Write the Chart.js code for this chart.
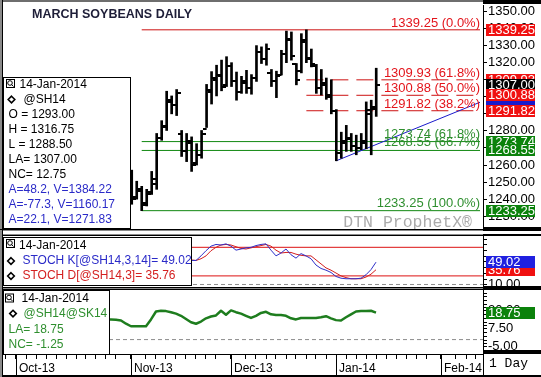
<!DOCTYPE html>
<html>
<head>
<meta charset="utf-8">
<title>March Soybeans Daily</title>
<script src="https://cdn.jsdelivr.net/npm/chart.js@4.4.1/dist/chart.umd.min.js"></script>
<style>
  body { margin: 0; background: #fff; }
  #wrap { position: relative; width: 541px; height: 377px; overflow: hidden; }
  #wrap canvas { position: absolute; left: 0; }
</style>
</head>
<body>
<div id="wrap">
  <canvas id="priceChart" width="541" height="234" style="top:0"></canvas>
  <canvas id="stochChart" width="541" height="55" style="top:234px"></canvas>
  <canvas id="spreadChart" width="541" height="88" style="top:289px"></canvas>
</div>
<script>
// trading day numbers count from 1-Oct-2013 (= day 0)
const firstDay = 18;
const dates = [
  '25-Oct-2013', '28-Oct-2013', '29-Oct-2013', '30-Oct-2013', '31-Oct-2013',
  '01-Nov-2013', '04-Nov-2013', '05-Nov-2013', '06-Nov-2013', '07-Nov-2013', '08-Nov-2013',
  '11-Nov-2013', '12-Nov-2013', '13-Nov-2013', '14-Nov-2013', '15-Nov-2013',
  '18-Nov-2013', '19-Nov-2013', '20-Nov-2013', '21-Nov-2013', '22-Nov-2013',
  '25-Nov-2013', '26-Nov-2013', '27-Nov-2013', '29-Nov-2013',
  '02-Dec-2013', '03-Dec-2013', '04-Dec-2013', '05-Dec-2013', '06-Dec-2013',
  '09-Dec-2013', '10-Dec-2013', '11-Dec-2013', '12-Dec-2013', '13-Dec-2013',
  '16-Dec-2013', '17-Dec-2013', '18-Dec-2013', '19-Dec-2013', '20-Dec-2013',
  '23-Dec-2013', '24-Dec-2013', '26-Dec-2013', '27-Dec-2013', '30-Dec-2013', '31-Dec-2013',
  '02-Jan-2014', '03-Jan-2014', '06-Jan-2014', '07-Jan-2014', '08-Jan-2014', '09-Jan-2014',
  '10-Jan-2014', '13-Jan-2014', '14-Jan-2014'
];

// @SH14 daily bars (bars hidden behind the legend box are left out)
const openPx = [null, null, null, null, 1262,
  1254, 1241, 1245, 1238, 1244, 1249,
  1276, 1282, 1297, 1295, 1278,
  1268, 1273, 1261, 1266, 1281,
  1303, 1310, 1312, 1307,
  1318, 1309, 1303, 1308, 1305,
  1311, 1326, 1322, 1314, 1309,
  1313, 1325, 1333, 1319, 1315,
  1333, 1322, 1318, 1305, 1308, 1301,
  1291.5, 1267, 1273, 1275, 1271, 1270,
  1273, 1290, 1293];
const highPx = [null, null, null, null, 1266,
  1257, 1250.5, 1247.5, 1245.75, 1256.25, 1278.5,
  1286, 1303.25, 1300.5, 1304.25, 1280.25,
  1278.5, 1276.5, 1272.5, 1280.25, 1307.25,
  1314.75, 1318.5, 1321.5, 1323.5,
  1320, 1314.5, 1312, 1315.5, 1313,
  1330, 1329.25, 1331, 1316, 1315,
  1327.25, 1338.5, 1338, 1319.5, 1337,
  1339.25, 1328, 1319, 1316, 1311, 1310,
  1292.5, 1279.25, 1283.25, 1278.5, 1277.5, 1278.5,
  1297, 1298, 1316.75];
const lowPx = [null, null, null, null, 1250,
  1237, 1240, 1233.25, 1236, 1242.75, 1245.75,
  1274.5, 1280.25, 1290, 1289, 1265,
  1262, 1256.25, 1260, 1264, 1282,
  1295.75, 1300.5, 1303.5, 1306,
  1306, 1298, 1302, 1302, 1301.5,
  1309, 1319.5, 1318.5, 1306, 1299.5,
  1312.75, 1320, 1321.5, 1307, 1314,
  1320, 1317.5, 1302, 1301, 1298.5, 1290,
  1262.5, 1264, 1268, 1268, 1266, 1269,
  1269.5, 1266, 1288.5];
const closePx = [null, null, null, null, 1255,
  1240, 1246, 1236.5, 1243, 1252, 1276,
  1283, 1298, 1295, 1302, 1268,
  1274, 1260, 1266, 1278, 1304,
  1311, 1313, 1306, 1318,
  1309, 1303, 1309, 1305, 1311,
  1326, 1322, 1328, 1309, 1312,
  1325, 1334, 1324, 1310, 1332,
  1323, 1319, 1305, 1307, 1300, 1291.5,
  1267, 1274, 1276, 1271, 1270, 1274,
  1292, 1294.25, 1307];

// Stochastics
const stochK = [null, null, null, null, null, null, null, null, null, null, null, null, null, null, null,
  54, 53, 52, 52, 60, 69, 77, 80, 79, 81,
  77, 70, 72, 74, 75, 78, 80, 81, 70, 60,
  65, 72, 62, 56, 64, 60, 55, 44, 38, 35,
  31, 24, 21, 20, 20, 20, 21, 27, 36, 49.02];
const stochD = [null, null, null, null, null, null, null, null, null, null, null, null, null, null, null,
  55, 54, 53, 52, 55, 60, 69, 75, 79, 80,
  79, 76, 73, 72, 74, 76, 78, 80, 77, 70,
  65, 66, 66, 63, 61, 60, 60, 53, 46, 39,
  35, 30, 25, 22, 20, 20, 20, 23, 28, 35.76];
const stochLevels = [75, 25];
const stochFloor = 10;

// March / May spread @SH14@SK14
const spreadSHSK = [14, 14, 13.75, 13.25, 11,
  9.25, 9.25, 9.25, 9.25, 14, 19.5,
  20, 19.75, 19, 18, 16.5,
  14.25, 12, 11, 12.5, 14.75,
  16, 16.75, 20, 17.25,
  20.25, 19, 18, 16.5, 15,
  16.5, 18.5, 19.25, 17.5, 17,
  17, 16.5, 14.75, 14, 15,
  15, 15, 15, 15.5, 16.25, 14.75,
  13.5, 13.25, 15.5, 17.5, 19.5, 19.75,
  19.75, 20, 18.75];

// retracement studies
const fibSolidValues = [1339.25, 1273.74, 1268.55, 1233.25];
const fibSolidLabels = ['1339.25 (0.0%)', '1273.74 (61.8%)', '1268.55 (66.7%)', '1233.25 (100.0%)'];
const fibSolidStartDay = 25;
const fibDashValues = [1309.93, 1300.88, 1291.82];
const fibDashLabels = ['1309.93 (61.8%)', '1300.88 (50.0%)', '1291.82 (38.2%)'];
const fibDashStartDay = 58;
const fibEndDay = 92.8;
const trendDays = [64, 92.8];
const trendValues = [1262.5, 1296.8];
const trendNotes = ['A=48.2, V=1384.22', 'A=-77.3, V=1160.17', 'A=22.1, V=1271.83'];

// axes
const priceAxisLabels = [1230, 1240, 1250, 1260, 1270, 1280, 1290, 1300, 1310, 1320, 1330, 1340, 1350];
const stochAxisLabels = [10, 50];
const stochMinorTicks = [20, 30, 40, 60, 70, 80, 90];
const spreadAxisLabels = [-5, 7.5, 20];
const spreadMinorTicks = [-7.5, -2.5, 0, 2.5, 5, 10, 12.5, 15, 17.5, 22.5, 25, 27.5, 30, 32.5];
const monthTickDays = [0, 23, 43, 64, 85];
const monthLabels = ['Oct-13', 'Nov-13', 'Dec-13', 'Jan-14', 'Feb-14'];

const chartTitle = 'MARCH SOYBEANS DAILY';
const symbol = '@SH14';
const spreadSymbol = '@SH14@SK14';

// ---------------------------------------------------------------
const FONT = "'Liberation Sans', Arial, sans-serif";
Chart.defaults.font.family = FONT;
Chart.defaults.color = '#000';

const RED = '#e3141b', RED_LINE = '#cc1111', GREEN = '#2f8f2f', GREEN_LINE = '#118811', BLUE = '#2a2ac8';
const dayMin = -2.4, dayMax = 93.4;
const last = dates.length - 1;
const lastDate = dates[last].replace(/^0/, '');

const dayOf = k => firstDay + k;
function points(values) {
  return values.map((v, k) => v == null ? null : { x: dayOf(k), y: v }).filter(p => p);
}
function levelLine(value, fromDay, toDay, color, dash, width) {
  return { type: 'line', data: [{ x: fromDay, y: value }, { x: toDay, y: value }],
    borderColor: color, borderWidth: width || 1, borderDash: dash || [], pointRadius: 0 };
}
function tickImage(side) {
  const c = document.createElement('canvas');
  c.width = 8; c.height = 2;
  const g = c.getContext('2d');
  g.fillStyle = '#000';
  g.fillRect(side < 0 ? 0 : 4, 0, 4, 2);
  return c;
}
function hiddenDayAxis() {
  return { type: 'linear', min: dayMin, max: dayMax, display: false, offset: false };
}
function rightAxis(min, max, labelValues, showLabels) {
  return {
    type: 'linear', position: 'right', min: min, max: max, beginAtZero: false,
    afterBuildTicks: s => { s.ticks = labelValues.map(v => ({ value: v })); },
    afterFit: s => { s.width = 58; s.paddingTop = 0; s.paddingBottom = 0; },
    ticks: { display: showLabels !== false, autoSkip: false, source: 'data', padding: 1, color: '#000',
      font: { size: 13 }, callback: v => Number(v).toFixed(2) },
    grid: { drawOnChartArea: false, drawTicks: true, tickLength: 4, color: '#000' },
    border: { display: true, color: '#000', width: 1 }
  };
}
function minorTicks(chart, values) {
  const ctx = chart.ctx, ys = chart.scales.y, x = chart.chartArea.right;
  ctx.fillStyle = '#000';
  values.forEach(v => ctx.fillRect(x, Math.round(ys.getPixelForValue(v)), 4, 1));
}
// keep every panel's plot area on the same pixels as the reference
function pinArea(chart, target) {
  const a = chart.chartArea, p = chart.config.options.layout.padding;
  const dl = target.left - a.left, dt = target.top - a.top, db = a.bottom - target.bottom;
  if (dl || dt || db) {
    chart.config.options.layout.padding = { left: p.left + dl, right: p.right, top: p.top + dt, bottom: p.bottom + db };
    chart.update();
  }
}
const baseOptions = {
  responsive: false, animation: false, devicePixelRatio: 1, events: [],
  plugins: { legend: { display: false }, tooltip: { enabled: false } }
};

function text(ctx, s, x, y, color, font, align) {
  ctx.font = font || ('12px ' + FONT);
  ctx.fillStyle = color;
  ctx.textAlign = align || 'left';
  ctx.textBaseline = 'middle';
  ctx.fillText(s, x, y);
}
function lensIcon(ctx, x, y) {
  ctx.strokeStyle = '#000'; ctx.lineWidth = 1;
  ctx.strokeRect(x + 0.5, y + 0.5, 8, 8);
  ctx.beginPath(); ctx.arc(x + 4, y + 4, 2.3, 0, Math.PI * 2); ctx.stroke();
  ctx.beginPath(); ctx.moveTo(x + 5.5, y + 5.5); ctx.lineTo(x + 7.5, y + 7.5); ctx.stroke();
}
function diamond(ctx, cx, cy) {
  ctx.strokeStyle = '#000'; ctx.lineWidth = 1.6;
  ctx.beginPath();
  ctx.moveTo(cx, cy - 3.3); ctx.lineTo(cx + 3.3, cy); ctx.lineTo(cx, cy + 3.3); ctx.lineTo(cx - 3.3, cy);
  ctx.closePath(); ctx.stroke();
}
function axisBox(chart, value, label, bg) {
  const ctx = chart.ctx, y = chart.scales.y.getPixelForValue(value);
  const x = chart.chartArea.right + 3;
  ctx.fillStyle = bg;
  ctx.fillRect(x, Math.round(y) - 6, 49, 12);
  text(ctx, label, x + 2, Math.round(y) + 0.5, '#fff', '13px ' + FONT);
}
function legendBox(ctx, x, y, w, h) {
  ctx.fillStyle = '#fff'; ctx.fillRect(x, y, w, h);
  ctx.strokeStyle = '#000'; ctx.lineWidth = 1; ctx.strokeRect(x + 0.5, y + 0.5, w - 1, h - 1);
}
function leftFrame(ctx, h) {
  ctx.fillStyle = '#8a8a8a'; ctx.fillRect(0, 0, 2, h);
  ctx.fillStyle = '#000'; ctx.fillRect(2, 0, 1, h);
}
const whiteBack = {
  id: 'whiteBack',
  beforeDraw(chart) {
    const ctx = chart.ctx;
    ctx.save(); ctx.fillStyle = '#fff'; ctx.fillRect(0, 0, chart.width, chart.height); ctx.restore();
  }
};

// ---------------- price panel ----------------
const hiLoBars = highPx.map((h, k) => h == null ? null : { x: dayOf(k), y: [lowPx[k], h] }).filter(p => p);
const netChange = closePx[last] - closePx[last - 1];

const priceDecor = {
  id: 'priceDecor',
  beforeDatasetsDraw(chart) {
    const ctx = chart.ctx;
    ctx.save();
    text(ctx, 'DTN ProphetX\u00ae', 472, 223, '#ababab', "16.5px 'Liberation Mono', monospace", 'right');
    ctx.restore();
  },
  afterDatasetsDraw(chart) {
    const ctx = chart.ctx, ys = chart.scales.y, xs = chart.scales.x;
    const right = xs.getPixelForValue(fibEndDay);
    ctx.save();
    ctx.font = '13px ' + FONT; ctx.textAlign = 'right'; ctx.textBaseline = 'alphabetic';
    fibSolidValues.forEach((v, k) => {
      ctx.fillStyle = k === 0 ? RED : GREEN;
      ctx.fillText(fibSolidLabels[k], right, ys.getPixelForValue(v) - (k === 0 ? 3 : 4));
    });
    ctx.fillStyle = RED;
    fibDashValues.forEach((v, k) => ctx.fillText(fibDashLabels[k], right, ys.getPixelForValue(v) - 3));
    ctx.restore();
  },
  afterDraw(chart) {
    const ctx = chart.ctx, a = chart.chartArea;
    ctx.save();
    // title
    ctx.font = 'bold 13px ' + FONT;
    const tw = ctx.measureText(chartTitle).width;
    ctx.save();
    ctx.translate(32, 14.5); ctx.scale(160 / tw, 1);
    text(ctx, chartTitle, 0, 0, '#1e1e38', 'bold 13px ' + FONT);
    ctx.restore();

    // legend
    legendBox(ctx, 3, 77, 128, a.bottom - 77);
    lensIcon(ctx, 6, 79);
    text(ctx, lastDate, 19.5, 84.5, '#000');
    diamond(ctx, 11.5, 99.5);
    text(ctx, symbol, 23.5, 99.5, '#000');
    const info = [
      'O = ' + openPx[last].toFixed(2),
      'H = ' + highPx[last].toFixed(2),
      'L = ' + lowPx[last].toFixed(2),
      'LA= ' + closePx[last].toFixed(2),
      'NC= ' + netChange.toFixed(2)
    ];
    info.forEach((s, k) => text(ctx, s, 8.5, 114.5 + k * 15, '#000'));
    trendNotes.forEach((s, k) => text(ctx, s, 8.5, 189.5 + k * 15, BLUE));

    // value boxes on the axis
    const ys = chart.scales.y;
    const tY = Math.round(ys.getPixelForValue(trendValues[1]));
    ctx.fillStyle = '#1a1acc'; ctx.fillRect(a.right + 3, tY - 6, 49, 12);
    axisBox(chart, 1309.93, '1309.93', '#f01010');
    axisBox(chart, closePx[last], closePx[last].toFixed(2), '#000');
    axisBox(chart, 1300.88, '1300.88', '#f01010');
    axisBox(chart, 1291.82, '1291.82', '#f01010');
    axisBox(chart, 1339.25, '1339.25', '#f01010');
    axisBox(chart, 1273.74, '1273.74', '#0b820b');
    axisBox(chart, 1268.55, '1268.55', '#0b820b');
    axisBox(chart, 1233.25, '1233.25', '#0b820b');

    // frame
    ctx.fillStyle = '#6e6e6e'; ctx.fillRect(0, 0, chart.width, 2);
    leftFrame(ctx, chart.height);
    ctx.fillStyle = '#000';
    ctx.fillRect(a.right, 0, chart.width - a.right, 4);
    ctx.fillRect(0, a.bottom, chart.width, 1);
    ctx.fillRect(a.right, a.bottom - 2, chart.width - a.right, 4);
    ctx.fillStyle = '#8a8a8a'; ctx.fillRect(3, a.bottom + 1, a.right - 3, 1);
    ctx.restore();
  }
};

const priceChart = new Chart(document.getElementById('priceChart'), {
  type: 'bar',
  data: {
    datasets: [
      { type: 'line', data: points(openPx), showLine: false, pointStyle: tickImage(-1), pointRadius: 3 },
      { type: 'line', data: points(closePx), showLine: false, pointStyle: tickImage(1), pointRadius: 3 },
      { type: 'bar', data: hiLoBars, backgroundColor: '#000', borderWidth: 0, barThickness: 2, grouped: false },
      { type: 'line', data: trendDays.map((d, k) => ({ x: d, y: trendValues[k] })),
        borderColor: '#1a1acc', borderWidth: 1, pointRadius: 0 },
      ...fibDashValues.map(v => levelLine(v, fibDashStartDay, fibEndDay, RED_LINE, [17, 8])),
      ...fibSolidValues.map((v, k) => levelLine(v, fibSolidStartDay, fibEndDay, k === 0 ? RED_LINE : GREEN_LINE))
    ]
  },
  options: Object.assign({}, baseOptions, {
    layout: { padding: { left: 4, right: 0, top: 4, bottom: 2 } },
    scales: { x: hiddenDayAxis(), y: rightAxis(1222.5, 1353.8, priceAxisLabels) }
  }),
  plugins: [whiteBack, priceDecor]
});
pinArea(priceChart, { left: 4, top: 4, bottom: 232 });

// ---------------- stochastics panel ----------------
const stochDecor = {
  id: 'stochDecor',
  afterDraw(chart) {
    const ctx = chart.ctx, a = chart.chartArea;
    ctx.save();
    minorTicks(chart, stochMinorTicks);
    legendBox(ctx, 3, 3, 189, 49);
    lensIcon(ctx, 6, 5);
    text(ctx, lastDate, 19, 11.5, '#000');
    diamond(ctx, 11, 27);
    text(ctx, 'STOCH K[' + symbol + ',3,14]= ' + stochK[last].toFixed(2), 22.5, 27, BLUE);
    diamond(ctx, 11, 42);
    text(ctx, 'STOCH D[' + symbol + ',3]= ' + stochD[last].toFixed(2), 22.5, 42, '#d42020');
    axisBox(chart, stochD[last], stochD[last].toFixed(2), '#f01010');
    axisBox(chart, stochK[last], stochK[last].toFixed(2), '#2020e0');
    ctx.fillStyle = '#8a8a8a'; ctx.fillRect(0, 0, chart.width, 1);
    ctx.fillRect(0, chart.height - 1, chart.width, 1);
    ctx.fillStyle = '#000';
    ctx.fillRect(0, 1, chart.width, 1);
    ctx.fillRect(0, a.bottom, chart.width, 1);
    ctx.fillRect(a.right, 0, chart.width - a.right, 2);
    ctx.fillRect(a.right, a.bottom - 1, chart.width - a.right, 3);
    leftFrame(ctx, chart.height);
    ctx.restore();
  }
};

const stochChart = new Chart(document.getElementById('stochChart'), {
  type: 'line',
  data: {
    datasets: [
      { data: points(stochK), borderColor: '#3030c8', borderWidth: 1, pointRadius: 0, tension: 0 },
      { data: points(stochD), borderColor: '#d42020', borderWidth: 1, pointRadius: 0, tension: 0 },
      ...stochLevels.map(v => levelLine(v, dayMin, dayMax, '#dd1111')),
      levelLine(stochFloor, dayMin, dayMax, '#8c8c8c', [4, 3])
    ]
  },
  options: Object.assign({}, baseOptions, {
    layout: { padding: { left: 4, right: 0, top: 2, bottom: 2 } },
    scales: { x: hiddenDayAxis(), y: rightAxis(5.6, 94.75, stochAxisLabels) }
  }),
  plugins: [whiteBack, stochDecor]
});
pinArea(stochChart, { left: 4, top: 2, bottom: 53 });

// ---------------- spread panel + date axis ----------------
const spreadChange = spreadSHSK[last] - spreadSHSK[last - 1];
const spreadDecor = {
  id: 'spreadDecor',
  afterDraw(chart) {
    const ctx = chart.ctx, a = chart.chartArea, xs = chart.scales.x, ys = chart.scales.y;
    ctx.save();
    minorTicks(chart, spreadMinorTicks);
    spreadAxisLabels.forEach(v =>
      text(ctx, v.toFixed(2), a.right + 5, ys.getPixelForValue(v), '#000', '13px ' + FONT));
    legendBox(ctx, 3, 1, 107, 65);
    lensIcon(ctx, 5, 4.5);
    text(ctx, lastDate, 21.5, 9.5, '#000');
    diamond(ctx, 13, 24.6);
    text(ctx, spreadSymbol, 23.5, 24.6, GREEN);
    text(ctx, 'LA= ' + spreadSHSK[last].toFixed(2), 8.5, 40.2, GREEN);
    text(ctx, 'NC= ' + spreadChange.toFixed(2), 8.5, 55.4, GREEN);
    axisBox(chart, spreadSHSK[last], spreadSHSK[last].toFixed(2), '#0b820b');

    // month separators in the date row
    ctx.fillStyle = '#000';
    monthTickDays.forEach(d => {
      const x = Math.round(xs.getPixelForValue(d));
      ctx.fillRect(x, a.bottom, 1, chart.height - a.bottom - 2);
    });
    ctx.fillRect(0, 0, chart.width, 1);
    ctx.fillRect(a.right, 0, chart.width - a.right, 1);
    ctx.fillRect(a.right, a.bottom - 4, chart.width - a.right, 4);
    ctx.fillRect(a.right, a.bottom, 1, chart.height - a.bottom);
    ctx.fillRect(0, chart.height - 2, chart.width, 2);
    text(ctx, '1 Day', a.right + 6, 74.5, '#000', "13px 'Liberation Mono', monospace");
    leftFrame(ctx, chart.height);
    ctx.restore();
  }
};

const dateAxisTicks = [];
for (let d = -2; d <= 92; d += 2) {
  if (!monthTickDays.some(m => Math.abs(m - d) < 1.5)) dateAxisTicks.push(d);
}
monthTickDays.forEach(d => dateAxisTicks.push(d));
dateAxisTicks.sort((p, q) => p - q);

const spreadChart = new Chart(document.getElementById('spreadChart'), {
  type: 'line',
  data: {
    datasets: [
      { data: points(spreadSHSK), borderColor: '#1e7d1e', borderWidth: 2.5, pointRadius: 0, tension: 0,
        borderJoinStyle: 'round' },
      levelLine(0, dayMin, dayMax, '#8c8c8c', [4, 3])
    ]
  },
  options: Object.assign({}, baseOptions, {
    layout: { padding: { left: 4, right: 0, top: 1, bottom: 0 } },
    scales: {
      x: {
        type: 'linear', position: 'bottom', min: dayMin, max: dayMax, offset: false,
        afterBuildTicks: s => { s.ticks = dateAxisTicks.map(v => ({ value: v })); },
        afterFit: s => { s.height = 23; s.paddingLeft = 0; s.paddingRight = 0; },
        ticks: { autoSkip: false, source: 'data', maxRotation: 0, align: 'start', labelOffset: 3, padding: 2,
          color: '#000', font: { size: 12 },
          callback: v => { const k = monthTickDays.indexOf(v); return k >= 0 ? monthLabels[k] : ''; } },
        grid: { drawOnChartArea: false, drawTicks: true, tickLength: 5, color: '#000' },
        border: { display: true, color: '#000', width: 1 }
      },
      y: rightAxis(-10, 34.4, spreadAxisLabels, false)
    }
  }),
  plugins: [whiteBack, spreadDecor]
});
pinArea(spreadChart, { left: 4, top: 1, bottom: 65 });
</script>
</body>
</html>
